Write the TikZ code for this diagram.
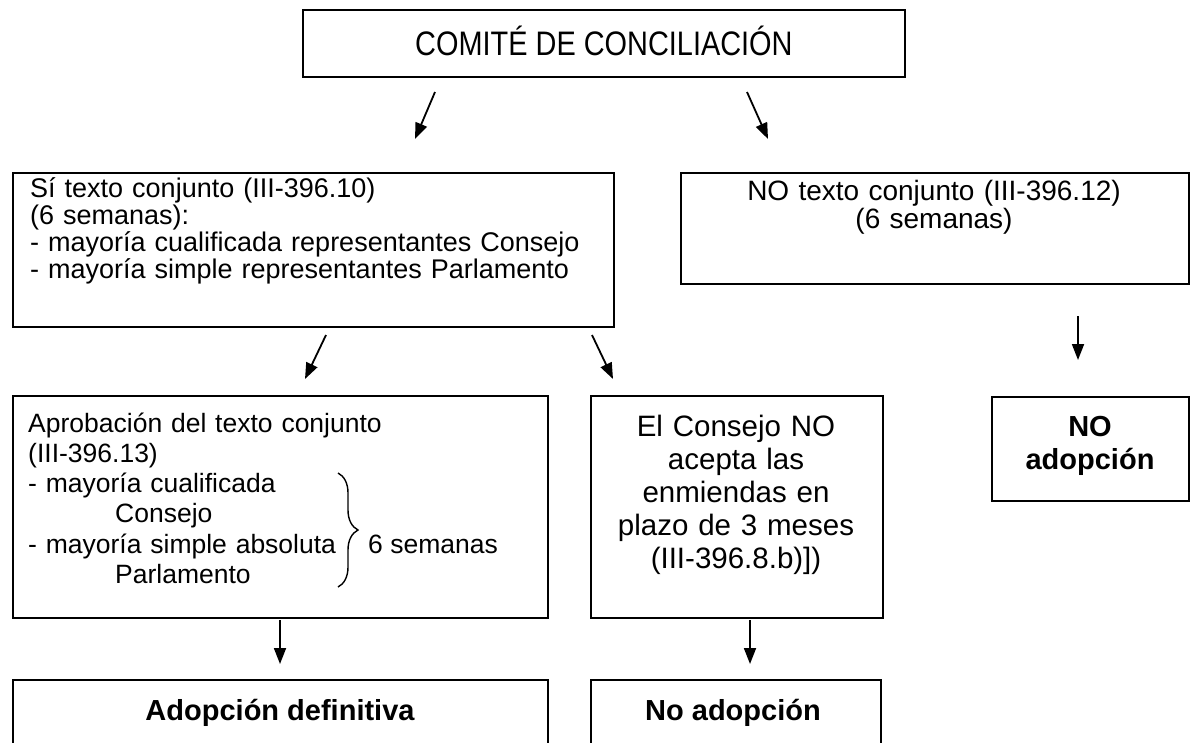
\documentclass[tikz,border=0pt]{standalone}
\usepackage{fontspec}
\setmainfont{Liberation Sans}
\newfontfamily\estrecha{Liberation Sans}[FakeStretch=0.85]
\usetikzlibrary{arrows.meta, decorations.pathreplacing}

\begin{document}
\begin{tikzpicture}[x=1pt, y=-1pt, >={Triangle[length=16pt,width=12pt]},
  caja/.style={draw, line width=1.8pt, anchor=north west, inner sep=0pt},
  texto/.style={inner sep=0pt, font=\fontsize{26.5}{30.3}\selectfont},
  flecha/.style={->, line width=1.8pt}]
  \useasboundingbox (0,0) rectangle (1190,742);
  \clip (0,0) rectangle (1190,742);
  % comite
  \node[caja, minimum width=602pt, minimum height=67pt, text height=24pt, text depth=0pt,
    font=\estrecha\fontsize{34}{38}\selectfont] (comite) at (302,9) {COMITÉ DE CONCILIACIÓN};
  \coordinate (f1a) at (435,92);  \coordinate (f1b) at (415,139);
  \coordinate (f2a) at (747,92);  \coordinate (f2b) at (768,139);
  \draw[flecha] (f1a) -- (f1b);
  \draw[flecha] (f2a) -- (f2b);
  % si hay texto conjunto
  \node[caja, minimum width=601pt, minimum height=154pt] (si) at (12,172) {};
  \node[texto, anchor=base west, text width=585pt, align=left,
    font=\fontsize{27}{27}\selectfont] (si-t) at (30,197)
    {Sí texto conjunto (III-396.10)\\(6 semanas):\\- mayoría cualificada representantes Consejo\\- mayoría simple representantes Parlamento};
  % no hay texto conjunto
  \node[caja, minimum width=508pt, minimum height=111pt] (no) at (680,172) {};
  \node[texto, anchor=base, text width=500pt, align=center,
    font=\fontsize{28}{28}\selectfont] (no-t) at (934,200)
    {NO texto conjunto (III-396.12)\\(6 semanas)};
  \coordinate (f3a) at (326,335); \coordinate (f3b) at (305,379);
  \coordinate (f4a) at (592,335); \coordinate (f4b) at (613,379);
  \coordinate (f5a) at (1078,316); \coordinate (f5b) at (1078,360);
  \draw[flecha] (f3a) -- (f3b);
  \draw[flecha] (f4a) -- (f4b);
  \draw[flecha] (f5a) -- (f5b);
  % aprobacion
  \node[caja, minimum width=535pt, minimum height=222pt] (aprob) at (12,395) {};
  \node[texto, anchor=base west, text width=500pt, align=left] (aprob-t) at (28,432)
    {Aprobación del texto conjunto\\(III-396.13)\\- mayoría cualificada\\\hspace*{87pt}Consejo\\- mayoría simple absoluta\\\hspace*{87pt}Parlamento};
  \draw[line width=1.4pt, decorate, decoration={brace, amplitude=20pt}] (338,473) -- (338,587);
  \node[texto, anchor=base west] (plazo) at (368,553) {6 semanas};
  % el consejo no acepta
  \node[caja, minimum width=292pt, minimum height=222pt] (consejo) at (590,395) {};
  \node[texto, anchor=base, text width=285pt, align=center,
    font=\fontsize{29.5}{33}\selectfont] (consejo-t) at (736,436)
    {El Consejo NO\\acepta las\\enmiendas en\\plazo de 3 meses\\(III-396.8.b)])};
  % no adopcion
  \node[caja, minimum width=197pt, minimum height=104pt] (noadop) at (991,396) {};
  \node[texto, anchor=base, text width=190pt, align=center,
    font=\bfseries\fontsize{29}{33}\selectfont] (noadop-t) at (1090,436)
    {NO\\adopción};
  \coordinate (f6a) at (280,620); \coordinate (f6b) at (280,664);
  \coordinate (f7a) at (750,620); \coordinate (f7b) at (750,664);
  \draw[flecha] (f6a) -- (f6b);
  \draw[flecha] (f7a) -- (f7b);
  % resultado final
  \node[caja, minimum width=535pt, minimum height=100pt] (adop) at (12,679) {};
  \node[texto, anchor=base, font=\bfseries\fontsize{29}{33}\selectfont] (adop-t) at (280,720)
    {Adopción definitiva};
  \node[caja, minimum width=290pt, minimum height=100pt] (noadop2) at (590,679) {};
  \node[texto, anchor=base, font=\bfseries\fontsize{29}{33}\selectfont] (noadop2-t) at (733,720)
    {No adopción};
\end{tikzpicture}
\end{document}
